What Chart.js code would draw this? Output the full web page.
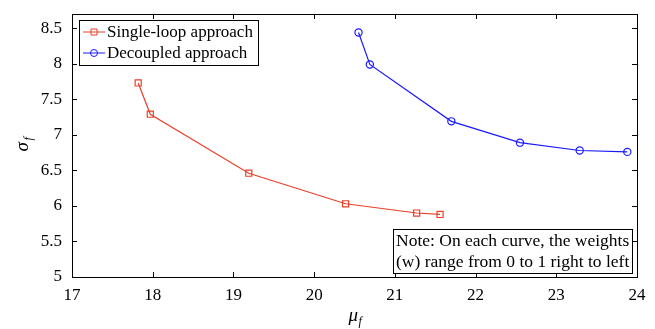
<!DOCTYPE html>
<html>
<head>
<meta charset="utf-8">
<script src="https://cdn.jsdelivr.net/npm/chart.js@4/dist/chart.umd.min.js"></script>
<style>
html,body{margin:0;padding:0;background:#fff;}
#wrap{width:655px;height:329px;position:relative;}
</style>
</head>
<body>
<div id="wrap"><canvas id="c" width="655" height="329"></canvas></div>
<script>
const singleLoopMu = [17.82, 17.97, 19.19, 20.39, 21.27, 21.56];
const singleLoopSigma = [7.73, 7.29, 6.46, 6.03, 5.90, 5.88];
const decoupledMu = [20.55, 20.69, 21.70, 22.55, 23.29, 23.88];
const decoupledSigma = [8.44, 7.99, 7.19, 6.89, 6.78, 6.76];
const seriesLabels = ['Single-loop approach', 'Decoupled approach'];
const xTicks = [17, 18, 19, 20, 21, 22, 23, 24];
const yTicks = [5, 5.5, 6, 6.5, 7, 7.5, 8, 8.5];
const noteLines = ['Note: On each curve, the weights', '(w) range from 0 to 1 right to left'];

const RED = '#e8412a';
const BLUE = '#1a1aff';
const FONT = "'Liberation Serif', 'Times New Roman', serif";
Chart.defaults.font.family = FONT;

function pts(xs, ys){ return xs.map((x,i)=>({x:x, y:ys[i]})); }

const decor = {
  id: 'decor',
  afterDraw(chart){
    const ctx = chart.ctx;
    const ca = chart.chartArea;
    const xs = chart.scales.x, ys = chart.scales.y;
    ctx.save();
    ctx.strokeStyle = '#000';
    ctx.lineWidth = 1;
    ctx.strokeRect(Math.round(ca.left)+0.5, Math.round(ca.top)+0.5, Math.round(ca.right-ca.left), Math.round(ca.bottom-ca.top));
    const tl = 5;
    ctx.beginPath();
    xTicks.forEach(v=>{
      const px = Math.round(xs.getPixelForValue(v))+0.5;
      ctx.moveTo(px, ca.bottom); ctx.lineTo(px, ca.bottom - tl);
      ctx.moveTo(px, ca.top); ctx.lineTo(px, ca.top + tl);
    });
    yTicks.forEach(v=>{
      const py = Math.round(ys.getPixelForValue(v))+0.5;
      ctx.moveTo(ca.left, py); ctx.lineTo(ca.left + tl, py);
      ctx.moveTo(ca.right, py); ctx.lineTo(ca.right - tl, py);
    });
    ctx.stroke();

    ctx.fillStyle = '#000';
    ctx.textBaseline = 'alphabetic';
    ctx.font = 'italic 19px ' + FONT;
    const mx = (ca.left + ca.right)/2 - 6;
    ctx.textAlign = 'left';
    ctx.fillText('\u03bc', mx, 321);
    ctx.font = 'italic 12px ' + FONT;
    ctx.fillText('f', mx + 10, 325);

    ctx.save();
    ctx.translate(28, (ca.top + ca.bottom)/2 + 6);
    ctx.rotate(-Math.PI/2);
    ctx.font = 'italic 19px ' + FONT;
    ctx.fillText('\u03c3', 0, 0);
    ctx.font = 'italic 12px ' + FONT;
    ctx.fillText('f', 11, 4);
    ctx.restore();

    const lx = 79, ly = 20, lw = 179, lh = 45;
    ctx.fillStyle = '#fff';
    ctx.fillRect(lx, ly, lw, lh);
    ctx.strokeStyle = '#000';
    ctx.lineWidth = 1;
    ctx.strokeRect(lx+0.5, ly+0.5, lw, lh);
    ctx.font = '17px ' + FONT;
    ctx.textAlign = 'left';
    ctx.textBaseline = 'middle';
    chart.data.datasets.forEach((ds, i)=>{
      const cy = ly + 12 + i*21;
      ctx.strokeStyle = ds.borderColor;
      ctx.lineWidth = 1;
      ctx.beginPath(); ctx.moveTo(83, cy); ctx.lineTo(105, cy); ctx.stroke();
      ctx.beginPath();
      if (ds.pointStyle === 'rect') {
        ctx.rect(91, cy-3, 6, 6);
      } else {
        ctx.arc(94, cy, 3.5, 0, Math.PI*2);
      }
      ctx.stroke();
      ctx.fillStyle = '#000';
      ctx.fillText(ds.label, 107, cy + 1);
    });

    const nx = 393, ny = 229, nw = 239, nh = 44;
    ctx.fillStyle = '#fff';
    ctx.fillRect(nx, ny, nw, nh);
    ctx.strokeStyle = '#000';
    ctx.strokeRect(nx+0.5, ny+0.5, nw, nh);
    ctx.fillStyle = '#000';
    ctx.font = '17.5px ' + FONT;
    ctx.textAlign = 'left';
    noteLines.forEach((t, i)=>{
      ctx.fillText(t, nx + 3, ny + 12 + i*21);
    });
    ctx.restore();
  }
};

new Chart(document.getElementById('c'), {
  type: 'scatter',
  data: {
    datasets: [
      {
        label: seriesLabels[0],
        data: pts(singleLoopMu, singleLoopSigma),
        showLine: true,
        borderColor: RED,
        backgroundColor: 'rgba(0,0,0,0)',
        borderWidth: 1.2,
        pointStyle: 'rect',
        pointRadius: 4.3,
        pointBorderWidth: 1.2,
        pointBorderColor: RED,
        pointBackgroundColor: 'rgba(0,0,0,0)',
        tension: 0
      },
      {
        label: seriesLabels[1],
        data: pts(decoupledMu, decoupledSigma),
        showLine: true,
        borderColor: BLUE,
        backgroundColor: 'rgba(0,0,0,0)',
        borderWidth: 1.2,
        pointStyle: 'circle',
        pointRadius: 3.6,
        pointBorderWidth: 1.2,
        pointBorderColor: BLUE,
        pointBackgroundColor: 'rgba(0,0,0,0)',
        tension: 0
      }
    ]
  },
  options: {
    responsive: false,
    animation: false,
    devicePixelRatio: 1,
    layout: { padding: { left: 0, right: 18, top: 14, bottom: 0 } },
    plugins: { legend: { display: false }, tooltip: { enabled: false } },
    scales: {
      x: {
        type: 'linear',
        min: 17, max: 24,
        afterBuildTicks(s){ s.ticks = xTicks.map(v=>({value:v})); },
        afterFit(s){ s.height = 52; s.paddingLeft = 0; s.paddingRight = 0; },
        grid: { display: false, drawTicks: false },
        border: { display: false },
        ticks: { color: '#000', font: { family: FONT, size: 17 }, padding: 8, maxRotation: 0,
                 callback: v => String(v) }
      },
      y: {
        type: 'linear',
        min: 5, max: 8.7,
        afterBuildTicks(s){ s.ticks = yTicks.map(v=>({value:v})); },
        afterFit(s){ s.width = 72; s.paddingTop = 0; s.paddingBottom = 0; },
        grid: { display: false, drawTicks: false },
        border: { display: false },
        ticks: { color: '#000', font: { family: FONT, size: 17 }, padding: 10,
                 callback: v => String(v) }
      }
    }
  },
  plugins: [decor]
});
</script>
</body>
</html>
